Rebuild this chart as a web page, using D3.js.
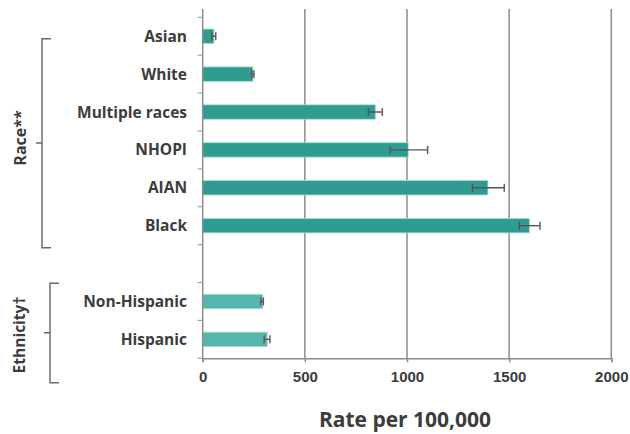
<!DOCTYPE html>
<html>
<head>
<meta charset="utf-8">
<script src="https://cdn.jsdelivr.net/npm/d3@7"></script>
<style>
  html, body { margin: 0; padding: 0; background: #fff; }
  svg { display: block; font-family: "Open Sans", "DejaVu Sans", sans-serif; }
</style>
</head>
<body>
<svg id="chart" width="630" height="434"></svg>
<script>
// Rates per 100,000 by race and by ethnicity, with confidence intervals.
// The blank entry leaves an empty row between the two groups.
const categories = ["Asian", "White", "Multiple races", "NHOPI", "AIAN", "Black", "", "Non-Hispanic", "Hispanic"];
const groups     = ["race", "race", "race", "race", "race", "race", null, "ethnicity", "ethnicity"];
const rates      = [55, 246, 845, 1006, 1396, 1599, null, 294, 316];
const ciLow      = [44, 240, 811, 917, 1320, 1550, null, 285, 301];
const ciHigh     = [64, 251, 879, 1101, 1476, 1651, null, 297, 329];
const xTicks     = [0, 500, 1000, 1500, 2000];
const groupLabels = ["Race**", "Ethnicity\u2020"];

const rows = categories.map((c, i) => ({
  key: c || "spacer", label: c, group: groups[i],
  rate: rates[i], lo: ciLow[i], hi: ciHigh[i]
}));

const svg = d3.select("#chart");
const plotLeft = 202.7, plotRight = 611.3, bandTop = 17.3, plotBottom = 358.3, plotTop = 9;

const x = d3.scaleLinear().domain([0, 2000]).range([plotLeft, plotRight]);
const y = d3.scaleBand().domain(rows.map(d => d.key)).range([bandTop, plotBottom]).padding(0);
const barH = y.bandwidth() * 0.38;

const textColor = "#3c3c3c";
const colors = { race: "#2f9c92", ethnicity: "#55b7ab" };

// vertical gridlines
svg.append("g").selectAll("line").data(xTicks.filter(t => t > 0)).join("line")
  .attr("x1", d => x(d)).attr("x2", d => x(d))
  .attr("y1", plotTop).attr("y2", plotBottom)
  .attr("stroke", "#8c8c8c").attr("stroke-width", 1.5);

// bars
const data = rows.filter(d => d.rate != null);
svg.append("g").selectAll("rect").data(data).join("rect")
  .attr("x", x(0))
  .attr("y", d => y(d.key) + (y.bandwidth() - barH) / 2)
  .attr("width", d => x(d.rate) - x(0))
  .attr("height", barH)
  .attr("fill", d => colors[d.group])
  .attr("stroke", "#a9ddd6").attr("stroke-width", 0.8);

// error bars
const eb = svg.append("g").attr("stroke", "#555").attr("stroke-width", 1.4).attr("fill", "none");
data.forEach(d => {
  const cy = y(d.key) + y.bandwidth() / 2;
  eb.append("line").attr("x1", x(d.lo)).attr("x2", x(d.hi)).attr("y1", cy).attr("y2", cy);
  [d.lo, d.hi].forEach(v => eb.append("line")
    .attr("x1", x(v)).attr("x2", x(v)).attr("y1", cy - 4).attr("y2", cy + 4));
});

// y axis line and band-boundary ticks
svg.append("line").attr("x1", plotLeft).attr("x2", plotLeft).attr("y1", plotTop).attr("y2", plotBottom)
  .attr("stroke", "#8c8c8c").attr("stroke-width", 1.5);
const bounds = rows.map(d => y(d.key)).concat([plotBottom]);
svg.append("g").selectAll("line").data(bounds).join("line")
  .attr("x1", plotLeft - 5).attr("x2", plotLeft).attr("y1", d => d).attr("y2", d => d)
  .attr("stroke", "#a0a0a0").attr("stroke-width", 1.2);

// x axis
const xAxis = svg.append("g").attr("transform", `translate(0,${plotBottom})`)
  .call(d3.axisBottom(x).tickValues(xTicks).tickSize(4).tickPadding(14).tickFormat(d3.format("d")));
xAxis.select(".domain").attr("stroke", "#8c8c8c").attr("stroke-width", 1.5);
xAxis.selectAll(".tick line").attr("stroke", "#8c8c8c").attr("stroke-width", 1.5);
xAxis.selectAll(".tick text").attr("fill", textColor)
  .style("font-size", "15px").style("font-weight", "700").attr("dy", "0.4em");

// category labels
svg.append("g").selectAll("text").data(rows.filter(d => d.label)).join("text")
  .attr("x", 187).attr("y", d => y(d.key) + y.bandwidth() / 2)
  .attr("dy", "0.36em").attr("text-anchor", "end")
  .attr("fill", textColor).style("font-size", "15.5px").style("font-weight", "700")
  .text(d => d.label);

// axis title
svg.append("text").attr("x", 405).attr("y", 427).attr("text-anchor", "middle")
  .attr("fill", textColor).style("font-size", "21px").style("font-weight", "700")
  .text("Rate per 100,000");

// group brackets with rotated titles
const brackets = [
  { label: groupLabels[0], x: 42, y0: 38.7, y1: 247.7, mid: 143, textY: 138, size: 16 },
  { label: groupLabels[1], x: 50, y0: 283.3, y1: 382.7, mid: 332.7, textY: 335, size: 15.5 }
];
brackets.forEach(b => {
  svg.append("path")
    .attr("d", `M${b.x + 9},${b.y0} H${b.x} V${b.y1} H${b.x + 9} M${b.x},${b.mid} H${b.x - 6}`)
    .attr("fill", "none").attr("stroke", "#666").attr("stroke-width", 1.4);
  svg.append("text")
    .attr("transform", `translate(20,${b.textY}) rotate(-90)`)
    .attr("text-anchor", "middle").attr("dy", "0.35em")
    .attr("fill", textColor).style("font-size", b.size + "px").style("font-weight", "700")
    .text(b.label);
});
</script>
</body>
</html>
